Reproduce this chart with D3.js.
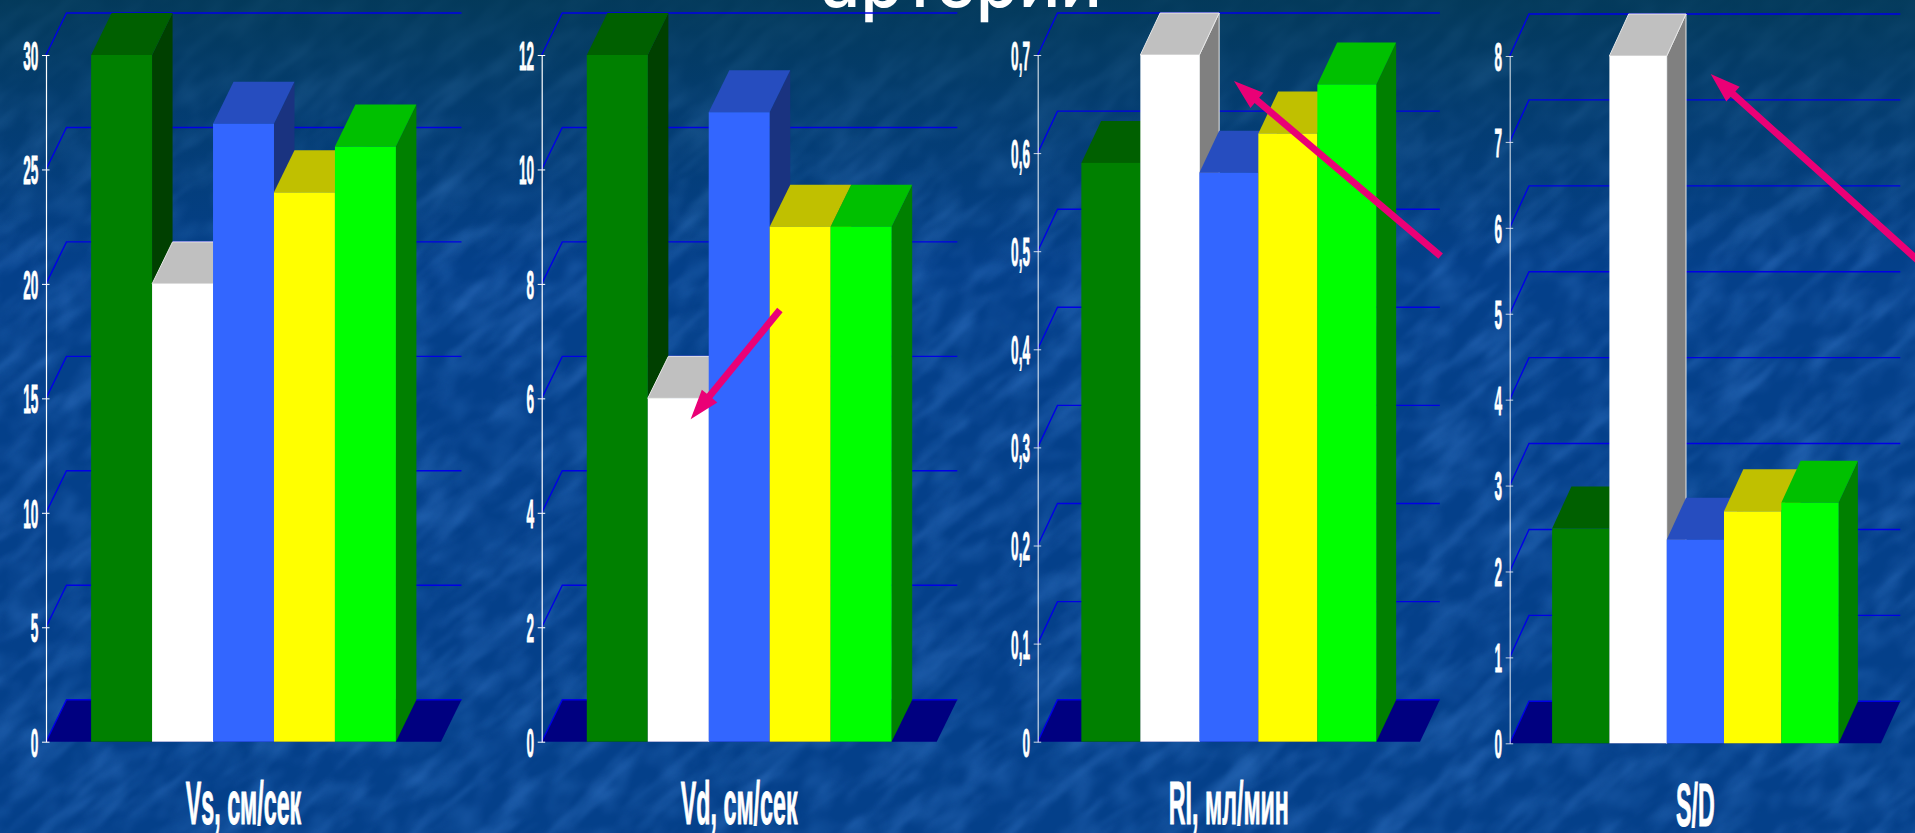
<!DOCTYPE html>
<html>
<head>
<meta charset="utf-8">
<script src="https://cdn.jsdelivr.net/npm/d3@7"></script>
<style>
  html, body { margin: 0; padding: 0; width: 1915px; height: 833px; overflow: hidden; background: #07448a; }
  svg { display: block; }
  text { font-family: "Liberation Sans", Arial, sans-serif; fill: #fff; }
</style>
</head>
<body>
<svg id="slide" width="1915" height="833" viewBox="0 0 1915 833"></svg>
<script>
// Doppler indices per group, one array per measure
const measures = ["Vs, см/сек", "Vd, см/сек", "RI, мл/мин", "S/D"];
const darkGreenValues = [30, 12, 0.59, 2.5];
const whiteValues = [20, 6, 0.70, 8];
const blueValues = [27, 11, 0.58, 2.37];
const yellowValues = [24, 9, 0.62, 2.7];
const limeValues = [26, 9, 0.67, 2.8];

const ticksVs = [0, 5, 10, 15, 20, 25, 30];
const ticksVd = [0, 2, 4, 6, 8, 10, 12];
const ticksRI = [0, 0.1, 0.2, 0.3, 0.4, 0.5, 0.6, 0.7];
const ticksSD = [0, 1, 2, 3, 4, 5, 6, 7, 8];
const tickSets = [ticksVs, ticksVd, ticksRI, ticksSD];

const titleTail = "артерии";

// Layout of each small chart
const frames = [
  { left: 46,     right: 441,    top: 55, bottom: 741.7, dx: 20.5, dy: 42, axisOpacity: 1 },
  { left: 541.7,  right: 936.7,  top: 55, bottom: 741.7, dx: 20.6, dy: 42, axisOpacity: 1 },
  { left: 1037.7, right: 1420,   top: 55, bottom: 741.7, dx: 19.8, dy: 42, axisOpacity: 0.8 },
  { left: 1509.7, right: 1881,   top: 56, bottom: 743.3, dx: 19.3, dy: 42, axisOpacity: 0.75 }
];

// Bar palette: front, top and side faces
const seriesStyles = [
  { values: darkGreenValues, front: "#008000", top: "#006000", side: "#004000" },
  { values: whiteValues,     front: "#ffffff", top: "#c0c0c0", side: "#808080", edge: "#e8e8e8" },
  { values: blueValues,      front: "#3366ff", top: "#264dbf", side: "#1a3380" },
  { values: yellowValues,    front: "#ffff00", top: "#c0c000", side: "#808000" },
  { values: limeValues,      front: "#00ff00", top: "#00c000", side: "#008000" }
];

// Callout arrows: x as a share of the plot width, y in the measure's own units
const callouts = [
  { panel: 1, from: [0.603, 7.544], to: [0.377, 5.634] },
  { panel: 2, from: [1.054, 0.495], to: [0.5135, 0.6735] },
  { panel: 3, from: [1.1187, 5.547], to: [0.5413, 7.79] }
];

const svg = d3.select("#slide");
const defs = svg.append("defs");

// Mottled slide backdrop
const shade = defs.append("linearGradient").attr("id", "topShade")
  .attr("x1", 0).attr("y1", 0).attr("x2", 0).attr("y2", 1);
shade.append("stop").attr("offset", 0).attr("stop-color", "#03384f").attr("stop-opacity", 0.8);
shade.append("stop").attr("offset", 0.14).attr("stop-color", "#03384f").attr("stop-opacity", 0.42);
shade.append("stop").attr("offset", 0.32).attr("stop-color", "#03384f").attr("stop-opacity", 0);

function noiseFilter(id, freq, octaves, seed, gain, bias, soften) {
  const f = defs.append("filter").attr("id", id)
    .attr("filterUnits", "userSpaceOnUse")
    .attr("x", -800).attr("y", -1200).attr("width", 3600).attr("height", 3200)
    .attr("color-interpolation-filters", "sRGB");
  f.append("feTurbulence").attr("type", "fractalNoise")
    .attr("baseFrequency", freq).attr("numOctaves", octaves).attr("seed", seed);
  f.append("feColorMatrix").attr("type", "matrix")
    .attr("values", `0 0 0 0 0.22  0 0 0 0 0.48  0 0 0 0 0.8  ${gain} 0 0 0 ${bias}`);
  f.append("feGaussianBlur").attr("stdDeviation", soften);
}
noiseFilter("streaks", "0.011 0.05", 3, 7, 1.15, -0.56, 1.6);
noiseFilter("mottle", "0.03 0.045", 2, 21, 0.8, -0.34, 2);

const backdrop = svg.append("g");
backdrop.append("rect").attr("width", 1915).attr("height", 833).attr("fill", "#04408a");
backdrop.append("rect")
  .attr("x", -800).attr("y", -1200).attr("width", 3600).attr("height", 3200)
  .attr("transform", "rotate(-40 957 416)")
  .attr("filter", "url(#mottle)");
backdrop.append("rect")
  .attr("x", -800).attr("y", -1200).attr("width", 3600).attr("height", 3200)
  .attr("transform", "rotate(-40 957 416)")
  .attr("filter", "url(#streaks)");
backdrop.append("rect").attr("width", 1915).attr("height", 833).attr("fill", "url(#topShade)");

// Last line of the slide heading, cut by the top edge
svg.append("text")
  .attr("x", 821).attr("y", 7)
  .attr("textLength", 281).attr("lengthAdjust", "spacingAndGlyphs")
  .style("font-family", "Inter, 'Open Sans', sans-serif")
  .style("font-size", "74px").style("font-weight", 500)
  .text(titleTail);

const decimalComma = d => String(d).replace(".", ",");

frames.forEach((frame, panelIndex) => {
  const g = svg.append("g");
  const categoryIds = seriesStyles.map((_, i) => i);
  const tickValues = tickSets[panelIndex];

  const x = d3.scaleBand().domain(categoryIds)
    .range([frame.left, frame.right]).paddingInner(0).paddingOuter(0.74);
  const y = d3.scaleLinear().domain(d3.extent(tickValues)).range([frame.bottom, frame.top]);
  const share = d3.scaleLinear().domain([0, 1]).range([frame.left, frame.right]);

  // Floor of the 3-D box
  const floorPath = d3.line()([
    [frame.left, y(0)],
    [frame.right, y(0)],
    [frame.right + frame.dx, y(0) - frame.dy],
    [frame.left + frame.dx, y(0) - frame.dy]
  ]) + "Z";
  g.append("path").attr("d", floorPath).attr("fill", "#000080");

  // Gridlines: short slant on the side wall, long run on the back wall
  g.append("g").selectAll("path").data(tickValues).join("path")
    .attr("fill", "none").attr("stroke", "#0000e6").attr("stroke-width", 1.4)
    .attr("d", d => d3.line()([
      [frame.left, y(d)],
      [frame.left + frame.dx, y(d) - frame.dy],
      [frame.right + frame.dx, y(d) - frame.dy]
    ]));

  // Value axis with ticks crossing the line
  const axis = g.append("g")
    .attr("transform", `translate(${frame.left},0)`)
    .call(d3.axisLeft(y).tickValues(tickValues).tickFormat(decimalComma).tickSizeOuter(0));
  axis.select(".domain").attr("stroke", "#fff").attr("stroke-width", 1.2).attr("opacity", frame.axisOpacity);
  axis.selectAll(".tick line")
    .attr("x1", 3.5).attr("x2", -4).attr("stroke", "#fff").attr("opacity", frame.axisOpacity);
  axis.selectAll(".tick text")
    .attr("x", 0).attr("dy", "0.36em").attr("text-anchor", "end")
    .attr("transform", "translate(-7.7,0) scale(0.34,1)")
    .attr("fill", "#fff")
    .style("stroke", "#fff").style("stroke-width", "0.8px")
    .style("font-family", "'Liberation Sans', Arial, sans-serif")
    .style("font-size", "40px").style("font-weight", "bold");

  // Bars, painted left to right so each one covers its neighbour's side
  seriesStyles.forEach((series, i) => {
    const value = series.values[panelIndex];
    const x0 = x(i), x1 = x0 + x.bandwidth();
    const yTop = y(value), yBase = y(0);
    const d = frame.dx, h = frame.dy;
    const bar = g.append("g");
    const edge = series.edge || "none";
    bar.append("path")
      .attr("d", d3.line()([[x1, yBase], [x1 + d, yBase - h], [x1 + d, yTop - h], [x1, yTop]]) + "Z")
      .attr("fill", series.side).attr("stroke", edge);
    bar.append("path")
      .attr("d", d3.line()([[x0, yTop], [x0 + d, yTop - h], [x1 + d, yTop - h], [x1, yTop]]) + "Z")
      .attr("fill", series.top).attr("stroke", edge);
    bar.append("rect")
      .attr("x", x0).attr("y", yTop)
      .attr("width", x.bandwidth()).attr("height", yBase - yTop)
      .attr("fill", series.front);
  });

  // Measure name under the chart
  g.append("text")
    .attr("text-anchor", "middle")
    .attr("transform", `translate(${(frame.left + frame.right) / 2},${frame.bottom + 82.5}) scale(0.375,1)`)
    .style("stroke", "#fff").style("stroke-width", "1px")
    .style("font-size", "62px").style("font-weight", "bold")
    .text(measures[panelIndex]);

  frame.toX = share;
  frame.toY = y;
});

// Pink callout arrows, drawn as one outline so shaft and head stay joined
svg.append("g").selectAll("path").data(callouts).join("path")
  .attr("fill", "#ea0076")
  .attr("d", c => {
    const frame = frames[c.panel];
    const ax = frame.toX(c.from[0]), ay = frame.toY(c.from[1]);
    const bx = frame.toX(c.to[0]), by = frame.toY(c.to[1]);
    const len = Math.hypot(bx - ax, by - ay);
    const ux = (bx - ax) / len, uy = (by - ay) / len;
    const nx = -uy, ny = ux;
    const shaft = 3.5, headLen = 30, headHalf = 10;
    const neckX = bx - ux * headLen, neckY = by - uy * headLen;
    return d3.line()([
      [ax + nx * shaft, ay + ny * shaft],
      [neckX + nx * shaft, neckY + ny * shaft],
      [neckX + nx * headHalf, neckY + ny * headHalf],
      [bx, by],
      [neckX - nx * headHalf, neckY - ny * headHalf],
      [neckX - nx * shaft, neckY - ny * shaft],
      [ax - nx * shaft, ay - ny * shaft]
    ]) + "Z";
  });
</script>
</body>
</html>
